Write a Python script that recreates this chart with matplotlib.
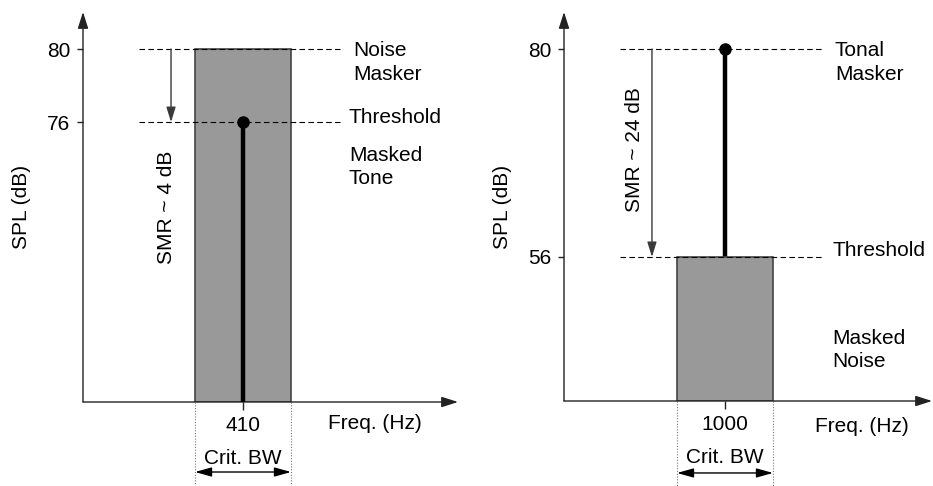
import matplotlib
matplotlib.use("Agg")
import matplotlib.pyplot as plt
from matplotlib.transforms import blended_transform_factory as btf

plt.rcParams['font.family'] = ['Liberation Sans', 'DejaVu Sans']

# ---- data ----
center_freq = [410, 1000]          # Hz
crit_bw = [100, 160]               # Hz
masker_level = [80, 80]            # dB SPL
threshold_level = [76, 56]         # dB SPL
smr_labels = ["SMR ~ 4 dB", "SMR ~ 24 dB"]
masker_labels = ["Noise\nMasker", "Tonal\nMasker"]
masked_labels = ["Masked\nTone", "Masked\nNoise"]
xtick_labels = ["410", "1000"]

FS = 15
AX_COL = '#222222'
HEAD = '-|>,head_length=1.0,head_width=0.32'

fig = plt.figure(figsize=(9.33, 4.86), dpi=100)
axL = fig.add_axes([83/933, 84/486, 375/933, 390/486])
axR = fig.add_axes([564/933, 85/486, 368/933, 389/486])

cfg = [
    dict(ax=axL, xlim=(243.3, 634), ylim=(60.66, 82.03), dash=(301.7, 511), arrow_x=335,
         lbl_x=(524.6, 520.4, 520.4), masker_y=79.26, thr_y=76.27, masked_y=73.53,
         smr=(329.8, 71.34), spl_x=-0.163, freq=(498.5, -0.0564), crit_y=-0.1436, dbl_y=-0.1795,
         dot_y=-0.215, tone_is_masker=False),
    dict(ax=axR, xlim=(731.7, 1345), ylim=(39.38, 84.27), dash=(825, 1161.7), arrow_x=878.3,
         lbl_x=(1183.3, 1180, 1178), masker_y=78.44, thr_y=56.8, masked_y=45.27,
         smr=(850, 68.35), spl_x=-0.1667, freq=(1150, -0.0668), crit_y=-0.1465, dbl_y=-0.185,
         dot_y=-0.22, tone_is_masker=True),
]

for i, c in enumerate(cfg):
    ax = c['ax']
    ax.set_xlim(*c['xlim'])
    ax.set_ylim(*c['ylim'])
    for s in ax.spines.values():
        s.set_visible(False)
    ybot = c['ylim'][0]
    fc = center_freq[i]
    bw = crit_bw[i]
    ml = masker_level[i]
    tl = threshold_level[i]

    # axes with arrows
    for end in ((1, 0), (0, 1)):
        ax.annotate('', xy=end, xytext=(0, 0), xycoords='axes fraction',
                    arrowprops=dict(arrowstyle=HEAD, color=AX_COL, lw=1.0,
                                    shrinkA=0, shrinkB=0), annotation_clip=False)

    # ticks
    ax.set_yticks([ml, tl])
    ax.set_yticklabels([str(ml), str(tl)], fontsize=FS)
    ax.set_xticks([fc])
    ax.set_xticklabels([xtick_labels[i]], fontsize=FS)
    ax.tick_params(axis='y', direction='out', length=4, width=1, color=AX_COL, pad=5)
    ax.tick_params(axis='x', direction='out', length=6, width=1, color=AX_COL, pad=4)

    # bar + stem
    if not c['tone_is_masker']:
        bar_top, stem_top, stem_z = ml, tl, 3
    else:
        bar_top, stem_top, stem_z = tl, ml, 1
    ax.bar(fc, bar_top - ybot, width=bw, bottom=ybot, color='#999999',
           edgecolor='#444444', linewidth=1.2, zorder=2)
    ax.vlines(fc, ybot, stem_top, color='black', lw=3.2, zorder=stem_z)
    ax.plot([fc], [stem_top], 'o', color='black', ms=8, zorder=4)

    # dashed lines
    for lev in (ml, tl):
        ax.plot(c['dash'], [lev, lev], color='black', lw=0.8, ls=(0, (5, 3)), zorder=3)

    # SMR arrow
    ax.annotate('', xy=(c['arrow_x'], tl), xytext=(c['arrow_x'], ml),
                arrowprops=dict(arrowstyle='-|>,head_length=0.9,head_width=0.28',
                                color='#3a3a3a', lw=1.0, shrinkA=0, shrinkB=0))
    ax.text(c['smr'][0], c['smr'][1], smr_labels[i], rotation=90, ha='center', va='center',
            fontsize=FS, color='black')

    # right labels
    ax.text(c['lbl_x'][0], c['masker_y'], masker_labels[i], ha='left', va='center',
            fontsize=FS, linespacing=1.3)
    ax.text(c['lbl_x'][1], c['thr_y'], "Threshold", ha='left', va='center', fontsize=FS)
    ax.text(c['lbl_x'][2], c['masked_y'], masked_labels[i], ha='left', va='center',
            fontsize=FS, linespacing=1.3)

    # axis labels
    ax.text(c['spl_x'], 0.5, "SPL (dB)", rotation=90, ha='center', va='center',
            fontsize=FS, transform=ax.transAxes)
    tr = btf(ax.transData, ax.transAxes)
    ax.text(c['freq'][0], c['freq'][1], "Freq. (Hz)", ha='left', va='center',
            fontsize=FS, transform=tr)

    # critical bandwidth
    lo, hi = fc - bw / 2, fc + bw / 2
    for xe in (lo, hi):
        ax.plot([xe, xe], [0, c['dot_y']], color='#777777', lw=0.8, ls=(0, (1, 1.5)),
                transform=tr, clip_on=False)
    ax.text(fc, c['crit_y'], "Crit. BW", ha='center', va='center', fontsize=FS, transform=tr)
    ax.annotate('', xy=(hi, c['dbl_y']), xytext=(lo, c['dbl_y']), xycoords=tr,
                arrowprops=dict(arrowstyle='<|-|>,head_length=1.0,head_width=0.28',
                                color='black', lw=1.0, shrinkA=0, shrinkB=0),
                annotation_clip=False)

fig.savefig('out.png', dpi=100)
